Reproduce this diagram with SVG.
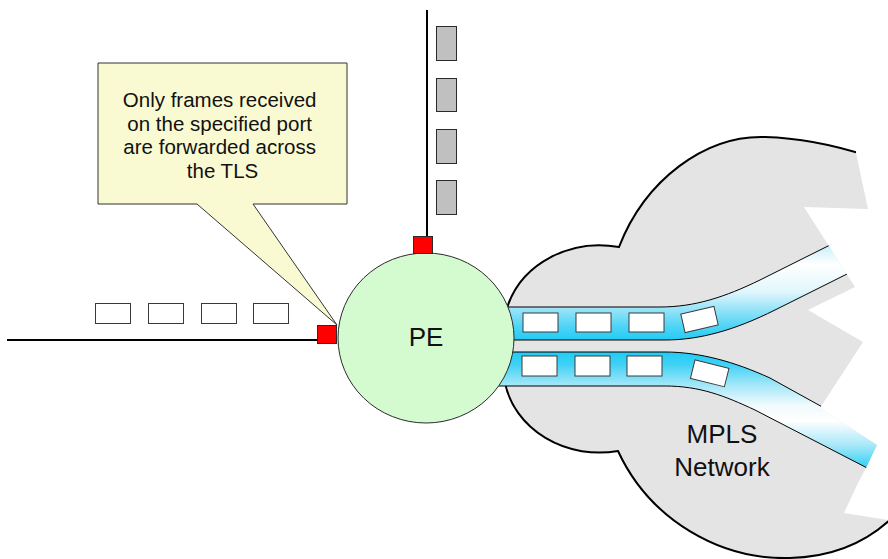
<svg xmlns="http://www.w3.org/2000/svg" width="888" height="559" viewBox="0 0 888 559">
  <style>
    .wire { stroke: #000; stroke-width: 2; fill: none; }
    .port { fill: #FF0000; stroke: #2a2a2a; stroke-width: 1; }
    .frame { fill: #FFFFFF; stroke: #3a3a3a; stroke-width: 1; }
    .frame-grey { fill: #C0C0C0; stroke: #2a2a2a; stroke-width: 1; }
    .tube-edge { stroke: #000; stroke-width: 1; }
    .label { font-family: "Liberation Sans", Arial, sans-serif; fill: #111; text-anchor: middle; }
  </style>
  <defs>
    <!-- torn right-hand edge of the MPLS cloud -->
    <clipPath id="torn-edge">
      <polygon points="0,0 856,0 856,153 868,209 804,207 855,287 808,310 863,342 820,408 877,445 866,468 858,483 844,513 888,520 888,559 0,559"/>
    </clipPath>
    <linearGradient id="tube-upper-fill" gradientUnits="userSpaceOnUse" x1="0" y1="238" x2="0" y2="342">
      <stop offset="0" stop-color="#B0E8F8"/>
      <stop offset="0.25" stop-color="#FFFFFF"/>
      <stop offset="0.52" stop-color="#E0F6FC"/>
      <stop offset="0.68" stop-color="#9AE4F8"/>
      <stop offset="0.85" stop-color="#4FD4F6"/>
      <stop offset="1" stop-color="#1BCAF4"/>
    </linearGradient>
    <linearGradient id="tube-lower-fill" gradientUnits="userSpaceOnUse" x1="0" y1="350" x2="0" y2="472">
      <stop offset="0" stop-color="#1BCAF4"/>
      <stop offset="0.12" stop-color="#40D2F6"/>
      <stop offset="0.28" stop-color="#A0E6F8"/>
      <stop offset="0.45" stop-color="#F0FAFD"/>
      <stop offset="0.58" stop-color="#FFFFFF"/>
      <stop offset="0.78" stop-color="#A8E8F8"/>
      <stop offset="1" stop-color="#1BCAF4"/>
    </linearGradient>
  </defs>

  <!-- access links -->
  <g id="connectors">
    <line class="wire" x1="427" y1="10" x2="427" y2="236"/>
    <line class="wire" x1="7" y1="340" x2="317" y2="340"/>
  </g>

  <!-- MPLS network cloud with its two tunnels -->
  <g clip-path="url(#torn-edge)">
    <g id="mpls-cloud">
      <path d="M508,305 A96,85 0 0 1 619,247 C645,180 705,135 765,137 C805,138 840,146 880,160 L900,160 L900,515 L895,515 C865,545 830,557 790,558 C720,560 650,520 618,451 A96,85 0 0 1 505,383 L498,345 Z" fill="#E4E4E4" stroke="#000" stroke-width="2"/>
      <text class="label" x="722" y="443" font-size="26">MPLS</text>
      <text class="label" x="722" y="476" font-size="26">Network</text>
    </g>
    <g id="tunnel-upper">
      <path class="tube-edge" fill="url(#tube-upper-fill)" d="M470,307 L660,307 C695,307 725,297 760,280 L880,220 L895,250 L775,310 C735,330 700,340 665,340 L470,340 Z"/>
      <rect class="frame" x="523" y="313" width="35" height="19"/>
      <rect class="frame" x="576" y="313" width="35" height="19"/>
      <rect class="frame" x="629" y="313" width="35" height="19"/>
      <rect class="frame" x="-17" y="-9.5" width="34" height="19" transform="translate(699.5 319.5) rotate(-13)"/>
    </g>
    <g id="tunnel-lower">
      <path class="tube-edge" fill="url(#tube-lower-fill)" d="M470,352 L665,352 C700,352 735,362 770,378 L900,450 L900,485 L755,410 C725,396 700,386 665,386 L470,386 Z"/>
      <rect class="frame" x="522" y="356" width="35" height="20"/>
      <rect class="frame" x="575" y="356" width="35" height="20"/>
      <rect class="frame" x="627" y="356" width="35" height="20"/>
      <rect class="frame" x="-17.5" y="-9.5" width="35" height="19" transform="translate(709.7 373.3) rotate(14)"/>
    </g>
  </g>

  <!-- provider edge router -->
  <g id="pe">
    <ellipse cx="426" cy="338" rx="88" ry="85" fill="#D4FBD0" stroke="#2a2a2a" stroke-width="1"/>
    <text class="label" x="426" y="346" font-size="26">PE</text>
  </g>

  <!-- annotation for the specified port -->
  <g id="callout">
    <path d="M98,63 H347 V204 H253 L337,325 L197,204 H98 Z" fill="#FAFAD2" stroke="#333" stroke-width="1"/>
    <text class="label" font-size="20.5">
      <tspan x="222.5" y="107">Only frames received</tspan>
      <tspan x="222.5" y="130.5">on the specified port</tspan>
      <tspan x="222.5" y="154">are forwarded across</tspan>
      <tspan x="222.5" y="177.5">the TLS</tspan>
    </text>
  </g>

  <g id="port-top">
    <rect class="port" x="413.5" y="236.5" width="19" height="17"/>
  </g>
  <g id="port-left">
    <rect class="port" x="317.5" y="325.5" width="19" height="18"/>
  </g>

  <!-- frames arriving on the top link -->
  <g id="frames-top">
    <rect class="frame-grey" x="436.5" y="26.5" width="20" height="34"/>
    <rect class="frame-grey" x="436.5" y="78.5" width="20" height="33"/>
    <rect class="frame-grey" x="436.5" y="129.5" width="20" height="34"/>
    <rect class="frame-grey" x="436.5" y="180.5" width="20" height="34"/>
  </g>

  <!-- frames arriving on the left link -->
  <g id="frames-left">
    <rect class="frame" x="95.5" y="303.5" width="35" height="20"/>
    <rect class="frame" x="148.5" y="303.5" width="35" height="20"/>
    <rect class="frame" x="201.5" y="303.5" width="35" height="20"/>
    <rect class="frame" x="253.5" y="303.5" width="35" height="20"/>
  </g>
</svg>
